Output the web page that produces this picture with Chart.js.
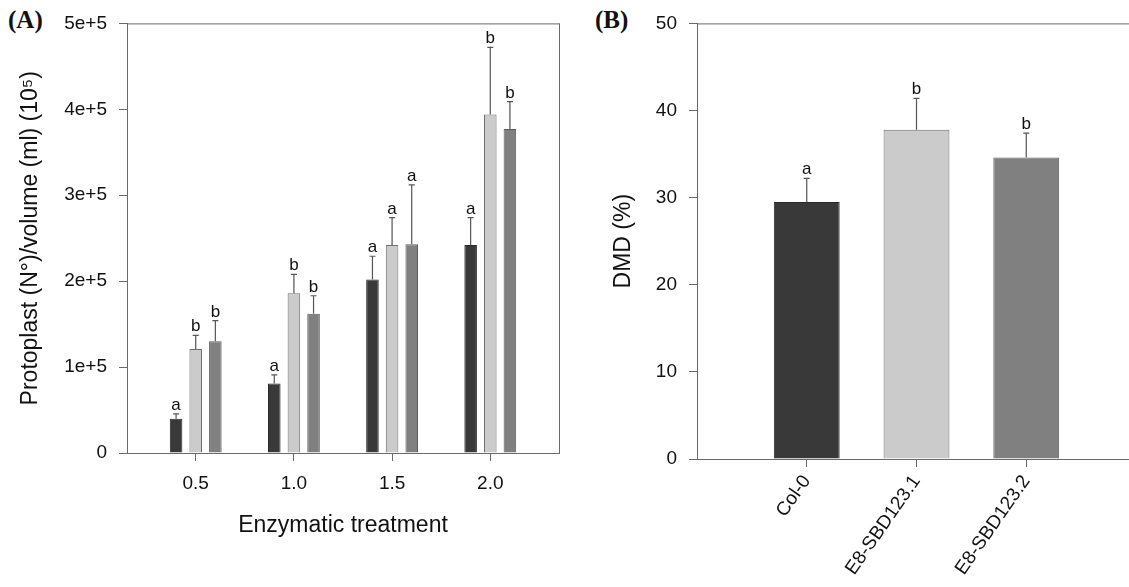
<!DOCTYPE html>
<html lang="en">
<head>
<meta charset="UTF-8">
<title>Protoplast yield and DMD</title>
<script src="https://cdn.jsdelivr.net/npm/chart.js@4.4.1/dist/chart.umd.min.js"></script>
<style>
  html, body { margin: 0; padding: 0; background: #fff; overflow: hidden; }
  body { width: 1129px; height: 587px; position: relative; }
  .panel { position: absolute; top: 0; }
  .tag { position: absolute; top: 6px; font: bold 25px "Liberation Serif", "DejaVu Serif", serif; color: #111; }
</style>
</head>
<body>
<div class="tag" style="left:8px">(A)</div>
<div class="tag" style="left:595px">(B)</div>
<div class="panel" style="left:0px; width:580px; height:587px"><canvas id="chartA" width="580" height="587"></canvas></div>
<div class="panel" style="left:580px; width:560px; height:587px"><canvas id="chartB" width="560" height="587"></canvas></div>

<script>
// ---- data panel A (protoplasts per ml) ----
const treatments = [0.5, 1.0, 1.5, 2.0];
const lineNames = ['Col-0', 'E8-SBD123.1', 'E8-SBD123.2'];
const colMeans = [40000, 81000, 202000, 242000];
const colSE = [5500, 10000, 27000, 32000];
const sbd1Means = [121000, 186000, 242000, 394000];
const sbd1SE = [16000, 22000, 32000, 78000];
const sbd2Means = [130000, 162000, 243000, 377000];
const sbd2SE = [24000, 21000, 69000, 32000];
const colLetters = ['a', 'a', 'a', 'a'];
const sbd1Letters = ['b', 'b', 'a', 'b'];
const sbd2Letters = ['b', 'b', 'a', 'b'];

// ---- data panel B (DMD %) ----
const dmdX = [1, 2, 3];
const dmdMeans = [29.5, 37.8, 34.6];
const dmdSE = [2.7, 3.6, 2.8];
const dmdLetters = ['a', 'b', 'b'];

const fills = ['#393939', '#cbcbcb', '#808080'];
const borders = ['#2a2a2a', '#6e6e6e', '#5c5c5c'];
const axisColor = '#6a6a6a';
const textColor = '#111';
const sansFont = '"Liberation Sans", Arial, sans-serif';

Chart.defaults.font.family = sansFont;
Chart.defaults.color = textColor;

// error bars (upper only) + significance letters
const errorBarPlugin = {
    id: 'errorBars',
    afterDatasetsDraw(chart) {
        const ctx = chart.ctx;
        const yScale = chart.scales.y;
        ctx.save();
        chart.data.datasets.forEach((ds, di) => {
            const meta = chart.getDatasetMeta(di);
            meta.data.forEach((bar, i) => {
                const top = yScale.getPixelForValue(ds.means[i] + ds.se[i]);
                const base = yScale.getPixelForValue(ds.means[i]);
                ctx.strokeStyle = '#555';
                ctx.lineWidth = 1.2;
                ctx.beginPath();
                ctx.moveTo(bar.x, base);
                ctx.lineTo(bar.x, top);
                ctx.moveTo(bar.x - 3, top);
                ctx.lineTo(bar.x + 3, top);
                ctx.stroke();
                ctx.fillStyle = textColor;
                ctx.font = '17px ' + sansFont;
                ctx.textAlign = 'center';
                ctx.textBaseline = 'alphabetic';
                ctx.fillText(ds.letters[i], bar.x, top - 4);
            });
        });
        ctx.restore();
    }
};

// top (and optional right) frame lines
const framePlugin = {
    id: 'frame',
    afterDraw(chart, args, opts) {
        const a = chart.chartArea;
        const ctx = chart.ctx;
        ctx.save();
        ctx.strokeStyle = axisColor;
        ctx.lineWidth = 1;
        ctx.beginPath();
        ctx.moveTo(a.left, a.top + 0.5);
        ctx.lineTo(a.right + 0.5, a.top + 0.5);
        if (opts.right) {
            ctx.moveTo(a.right + 0.5, a.top);
            ctx.lineTo(a.right + 0.5, a.bottom);
        }
        ctx.stroke();
        ctx.restore();
    }
};

function makeBarDataset(label, means, se, letters, idx) {
    return {
        label: label,
        data: treatments.map((x, i) => ({ x: x, y: means[i] })),
        means: means,
        se: se,
        letters: letters,
        backgroundColor: fills[idx],
        borderColor: borders[idx],
        borderWidth: 1,
        categoryPercentage: 0.6,
        barPercentage: 0.64
    };
}

const chartA = new Chart(document.getElementById('chartA'), {
    type: 'bar',
    data: {
        datasets: [
            makeBarDataset(lineNames[0], colMeans, colSE, colLetters, 0),
            makeBarDataset(lineNames[1], sbd1Means, sbd1SE, sbd1Letters, 1),
            makeBarDataset(lineNames[2], sbd2Means, sbd2SE, sbd2Letters, 2)
        ]
    },
    options: {
        responsive: false,
        animation: false,
        layout: { padding: { left: 0, right: 21, top: 21, bottom: 0 } },
        plugins: { legend: { display: false }, tooltip: { enabled: false }, frame: { right: true } },
        scales: {
            x: {
                type: 'linear',
                min: 0.15,
                max: 2.35,
                offset: false,
                afterBuildTicks: (scale) => { scale.ticks = treatments.map(v => ({ value: v })); },
                afterFit: (scale) => { scale.height = 134; },
                ticks: { font: { size: 19 }, padding: 11, color: textColor, callback: (v) => v.toFixed(1) },
                grid: { display: true, offset: false, drawOnChartArea: false, drawTicks: true, tickLength: 8, color: axisColor },
                border: { display: true, color: axisColor, width: 1 },
                title: { display: true, text: 'Enzymatic treatment', font: { size: 23 }, color: textColor, padding: { top: 0, bottom: 48 } }
            },
            y: {
                min: 0,
                max: 500000,
                afterFit: (scale) => { scale.width = 127; },
                ticks: {
                    stepSize: 100000, font: { size: 19 }, padding: 12, color: textColor,
                    callback: (v) => v === 0 ? '0' : (v / 100000) + 'e+5'
                },
                grid: { display: true, drawOnChartArea: false, drawTicks: true, tickLength: 8, color: axisColor },
                border: { display: true, color: axisColor, width: 1 },
                title: { display: true, text: 'Protoplast (N°)/volume (ml) (10⁵)', font: { size: 23 }, color: textColor, padding: { top: 17, bottom: 0 } }
            }
        }
    },
    plugins: [errorBarPlugin, framePlugin]
});

const chartB = new Chart(document.getElementById('chartB'), {
    type: 'bar',
    data: {
        datasets: [{
            label: 'DMD',
            data: dmdX.map((x, i) => ({ x: x, y: dmdMeans[i] })),
            means: dmdMeans,
            se: dmdSE,
            letters: dmdLetters,
            backgroundColor: fills,
            borderColor: borders,
            borderWidth: 1,
            categoryPercentage: 1,
            barPercentage: 0.6
        }]
    },
    options: {
        responsive: false,
        animation: false,
        layout: { padding: { left: 0, right: 4, top: 21, bottom: 0 } },
        plugins: { legend: { display: false }, tooltip: { enabled: false }, frame: { right: false } },
        scales: {
            x: {
                type: 'linear',
                min: 0,
                max: 4,
                offset: false,
                afterBuildTicks: (scale) => { scale.ticks = dmdX.map(v => ({ value: v })); },
                afterFit: (scale) => { scale.height = 128; },
                ticks: {
                    font: { size: 19 }, padding: 4, color: textColor, minRotation: 55, maxRotation: 55, autoSkip: false,
                    callback: (v) => lineNames[dmdX.indexOf(v)] || ''
                },
                grid: { display: true, offset: false, drawOnChartArea: false, drawTicks: true, tickLength: 8, color: axisColor },
                border: { display: true, color: axisColor, width: 1 }
            },
            y: {
                min: 0,
                max: 50,
                afterFit: (scale) => { scale.width = 117; },
                ticks: { stepSize: 10, font: { size: 19 }, padding: 12, color: textColor },
                grid: { display: true, drawOnChartArea: false, drawTicks: true, tickLength: 8, color: axisColor },
                border: { display: true, color: axisColor, width: 1 },
                title: { display: true, text: 'DMD (%)', font: { size: 23 }, color: textColor, padding: { top: 30, bottom: 0 } }
            }
        }
    },
    plugins: [errorBarPlugin, framePlugin]
});
</script>
</body>
</html>
